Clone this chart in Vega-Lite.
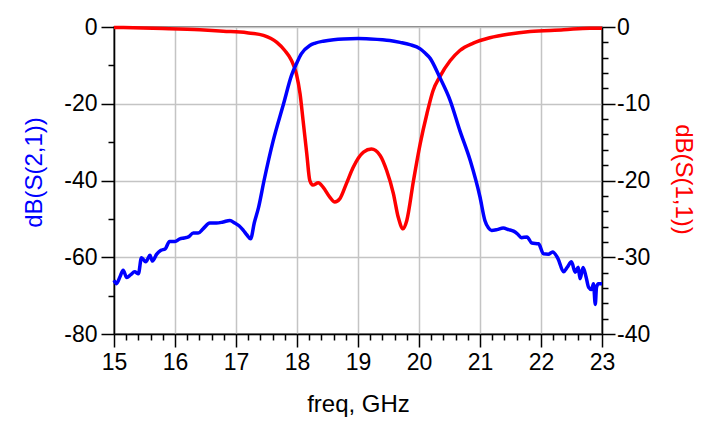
{
  "$schema": "https://vega.github.io/schema/vega-lite/v6.json",
  "description": "Filter response: dB(S(2,1)) on the left axis and dB(S(1,1)) on the right axis versus frequency",
  "autosize": "none",
  "padding": {"left": 114, "top": 27, "right": 108, "bottom": 95},
  "width": 488,
  "height": 307,
  "datasets": {
    "s21": [
      {"freq": 15.00, "db": -66.0}, {"freq": 15.04, "db": -66.9}, {"freq": 15.10, "db": -65.0},
      {"freq": 15.15, "db": -63.4}, {"freq": 15.21, "db": -65.3}, {"freq": 15.27, "db": -64.6},
      {"freq": 15.34, "db": -63.8}, {"freq": 15.40, "db": -64.3}, {"freq": 15.45, "db": -60.1},
      {"freq": 15.52, "db": -61.2}, {"freq": 15.59, "db": -59.5}, {"freq": 15.63, "db": -61.0},
      {"freq": 15.70, "db": -59.2}, {"freq": 15.77, "db": -58.2}, {"freq": 15.84, "db": -57.8},
      {"freq": 15.91, "db": -55.9}, {"freq": 16.00, "db": -55.9}, {"freq": 16.08, "db": -55.2},
      {"freq": 16.15, "db": -55.0}, {"freq": 16.22, "db": -54.7}, {"freq": 16.30, "db": -53.7},
      {"freq": 16.38, "db": -53.7}, {"freq": 16.46, "db": -52.6}, {"freq": 16.57, "db": -51.1},
      {"freq": 16.68, "db": -51.1}, {"freq": 16.79, "db": -50.8}, {"freq": 16.90, "db": -50.4},
      {"freq": 16.98, "db": -51.1}, {"freq": 17.05, "db": -51.8}, {"freq": 17.12, "db": -53.0},
      {"freq": 17.18, "db": -54.2}, {"freq": 17.24, "db": -55.2}, {"freq": 17.30, "db": -51.0},
      {"freq": 17.37, "db": -47.0}, {"freq": 17.46, "db": -40.0}, {"freq": 17.61, "db": -29.6},
      {"freq": 17.78, "db": -20.0}, {"freq": 17.91, "db": -12.6}, {"freq": 17.99, "db": -9.6},
      {"freq": 18.07, "db": -7.0}, {"freq": 18.21, "db": -4.8}, {"freq": 18.30, "db": -4.2},
      {"freq": 18.43, "db": -3.7}, {"freq": 18.60, "db": -3.3}, {"freq": 18.76, "db": -3.1},
      {"freq": 19.00, "db": -3.0}, {"freq": 19.20, "db": -3.1}, {"freq": 19.40, "db": -3.3},
      {"freq": 19.52, "db": -3.5}, {"freq": 19.69, "db": -4.0}, {"freq": 19.85, "db": -4.6},
      {"freq": 20.02, "db": -5.7}, {"freq": 20.10, "db": -6.8}, {"freq": 20.18, "db": -8.1},
      {"freq": 20.34, "db": -13.1}, {"freq": 20.51, "db": -19.1}, {"freq": 20.67, "db": -27.0},
      {"freq": 20.84, "db": -34.8}, {"freq": 21.00, "db": -44.3}, {"freq": 21.08, "db": -50.4},
      {"freq": 21.14, "db": -52.4}, {"freq": 21.19, "db": -53.0}, {"freq": 21.28, "db": -52.8},
      {"freq": 21.38, "db": -52.4}, {"freq": 21.47, "db": -52.8}, {"freq": 21.55, "db": -53.2},
      {"freq": 21.62, "db": -54.0}, {"freq": 21.68, "db": -54.9}, {"freq": 21.77, "db": -54.7},
      {"freq": 21.85, "db": -56.3}, {"freq": 21.96, "db": -56.5}, {"freq": 22.04, "db": -59.1},
      {"freq": 22.12, "db": -59.2}, {"freq": 22.19, "db": -58.6}, {"freq": 22.28, "db": -60.4},
      {"freq": 22.37, "db": -63.8}, {"freq": 22.43, "db": -62.6}, {"freq": 22.50, "db": -61.2},
      {"freq": 22.56, "db": -63.9}, {"freq": 22.61, "db": -62.6}, {"freq": 22.64, "db": -65.6},
      {"freq": 22.69, "db": -62.7}, {"freq": 22.74, "db": -65.2}, {"freq": 22.78, "db": -67.8},
      {"freq": 22.83, "db": -68.4}, {"freq": 22.86, "db": -66.9}, {"freq": 22.89, "db": -72.3},
      {"freq": 22.91, "db": -67.8}, {"freq": 22.94, "db": -66.9}, {"freq": 23.00, "db": -66.9}
    ],
    "s11": [
      {"freq": 15.00, "db": -0.05}, {"freq": 15.80, "db": -0.2}, {"freq": 16.41, "db": -0.37},
      {"freq": 16.79, "db": -0.55}, {"freq": 17.18, "db": -0.75}, {"freq": 17.45, "db": -1.1},
      {"freq": 17.67, "db": -2.0}, {"freq": 17.80, "db": -3.06}, {"freq": 17.91, "db": -4.36},
      {"freq": 17.99, "db": -6.1}, {"freq": 18.05, "db": -8.7}, {"freq": 18.10, "db": -12.2},
      {"freq": 18.16, "db": -16.5}, {"freq": 18.21, "db": -20.0}, {"freq": 18.26, "db": -20.6},
      {"freq": 18.35, "db": -20.3}, {"freq": 18.43, "db": -20.9}, {"freq": 18.54, "db": -22.2},
      {"freq": 18.62, "db": -22.8}, {"freq": 18.70, "db": -22.4}, {"freq": 18.81, "db": -20.4},
      {"freq": 18.92, "db": -18.3}, {"freq": 19.09, "db": -16.3}, {"freq": 19.22, "db": -15.9},
      {"freq": 19.36, "db": -16.7}, {"freq": 19.47, "db": -18.7}, {"freq": 19.58, "db": -21.7},
      {"freq": 19.66, "db": -24.8}, {"freq": 19.74, "db": -26.3}, {"freq": 19.80, "db": -25.2},
      {"freq": 19.91, "db": -20.0}, {"freq": 20.02, "db": -15.2}, {"freq": 20.13, "db": -11.3},
      {"freq": 20.23, "db": -8.3}, {"freq": 20.34, "db": -6.5}, {"freq": 20.51, "db": -4.4},
      {"freq": 20.67, "db": -3.06}, {"freq": 20.89, "db": -2.1}, {"freq": 21.16, "db": -1.4},
      {"freq": 21.49, "db": -0.9}, {"freq": 21.82, "db": -0.59}, {"freq": 22.37, "db": -0.37},
      {"freq": 22.80, "db": -0.15}, {"freq": 23.00, "db": -0.15}
    ]
  },
  "layer": [
    {
      "data": {"name": "s21"},
      "mark": {"type": "line", "strokeOpacity": 0},
      "encoding": {
        "x": {
          "field": "freq", "type": "quantitative",
          "scale": {"domain": [15, 23], "nice": false, "zero": false},
          "axis": {
            "orient": "bottom", "title": null, "labels": false, "grid": false, "domain": false,
            "tickSize": 6,
            "values": [15.2, 15.4, 15.6, 15.8, 16.2, 16.4, 16.6, 16.8, 17.2, 17.4, 17.6, 17.8,
                       18.2, 18.4, 18.6, 18.8, 19.2, 19.4, 19.6, 19.8, 20.2, 20.4, 20.6, 20.8,
                       21.2, 21.4, 21.6, 21.8, 22.2, 22.4, 22.6, 22.8]
          }
        },
        "y": {
          "field": "db", "type": "quantitative",
          "scale": {"domain": [-80, 0], "nice": false, "zero": false},
          "axis": {
            "orient": "left", "title": null, "labels": false, "grid": false, "domain": false,
            "tickSize": 6, "values": [-10, -30, -50, -70]
          }
        }
      }
    },
    {
      "data": {"name": "s11"},
      "mark": {"type": "line", "strokeOpacity": 0},
      "encoding": {
        "x": {"field": "freq", "type": "quantitative", "axis": null},
        "y": {
          "field": "db", "type": "quantitative",
          "scale": {"domain": [-40, 0], "nice": false, "zero": false},
          "axis": {
            "orient": "right", "title": null, "labels": false, "grid": false, "domain": false,
            "tickSize": 6,
            "values": [-2, -4, -6, -8, -12, -14, -16, -18, -22, -24, -26, -28, -32, -34, -36, -38]
          }
        }
      }
    },
    {
      "data": {"name": "s11"},
      "mark": {"type": "line", "color": "#ff0000", "strokeWidth": 3.5, "interpolate": "monotone", "strokeJoin": "round"},
      "encoding": {
        "x": {"field": "freq", "type": "quantitative", "axis": null},
        "y": {
          "field": "db", "type": "quantitative",
          "scale": {"domain": [-40, 0], "nice": false, "zero": false},
          "axis": {
            "orient": "right", "title": "dB(S(1,1))", "titleColor": "#ff0000",
            "values": [0, -10, -20, -30, -40], "grid": false,
            "tickSize": 13, "labelPadding": 1.5,
            "labelExpr": "toString(datum.value)",
            "titleAngle": 90, "titleX": 80, "titleY": 152,
            "titleAlign": "center", "titleBaseline": "middle"
          }
        }
      }
    },
    {
      "data": {"name": "s21"},
      "mark": {"type": "line", "color": "#0000ff", "strokeWidth": 3.5, "interpolate": "monotone", "strokeJoin": "round"},
      "encoding": {
        "x": {
          "field": "freq", "type": "quantitative",
          "scale": {"domain": [15, 23], "nice": false, "zero": false},
          "axis": {
            "orient": "bottom", "title": "freq, GHz",
            "values": [15, 16, 17, 18, 19, 20, 21, 22, 23], "grid": true,
            "tickSize": 13, "labelPadding": 4,
            "titleX": 244, "titleY": 70, "titleAlign": "center", "titleBaseline": "middle"
          }
        },
        "y": {
          "field": "db", "type": "quantitative",
          "scale": {"domain": [-80, 0], "nice": false, "zero": false},
          "axis": {
            "orient": "left", "title": "dB(S(2,1))", "titleColor": "#0000ff",
            "values": [0, -20, -40, -60, -80], "grid": true,
            "tickSize": 13, "labelPadding": 4,
            "labelExpr": "toString(datum.value)",
            "titleAngle": 270, "titleX": -80, "titleY": 145,
            "titleAlign": "center", "titleBaseline": "middle"
          }
        }
      }
    }
  ],
  "resolve": {
    "scale": {"y": "independent"},
    "axis": {"x": "independent", "y": "independent"}
  },
  "config": {
    "font": "Liberation Sans",
    "view": {"stroke": "#555555", "strokeWidth": 1.5},
    "axis": {
      "domainColor": "#000000",
      "domainWidth": 1.5,
      "tickColor": "#000000",
      "tickWidth": 1.5,
      "gridColor": "#c4c4c4",
      "gridWidth": 1.5,
      "gridOpacity": 1,
      "labelFont": "Liberation Sans",
      "labelFontSize": 23,
      "labelColor": "#000000",
      "labelFlush": false,
      "labelOverlap": false,
      "titleFont": "Liberation Sans",
      "titleFontSize": 24,
      "titleFontWeight": "normal",
      "titleColor": "#000000"
    }
  }
}
